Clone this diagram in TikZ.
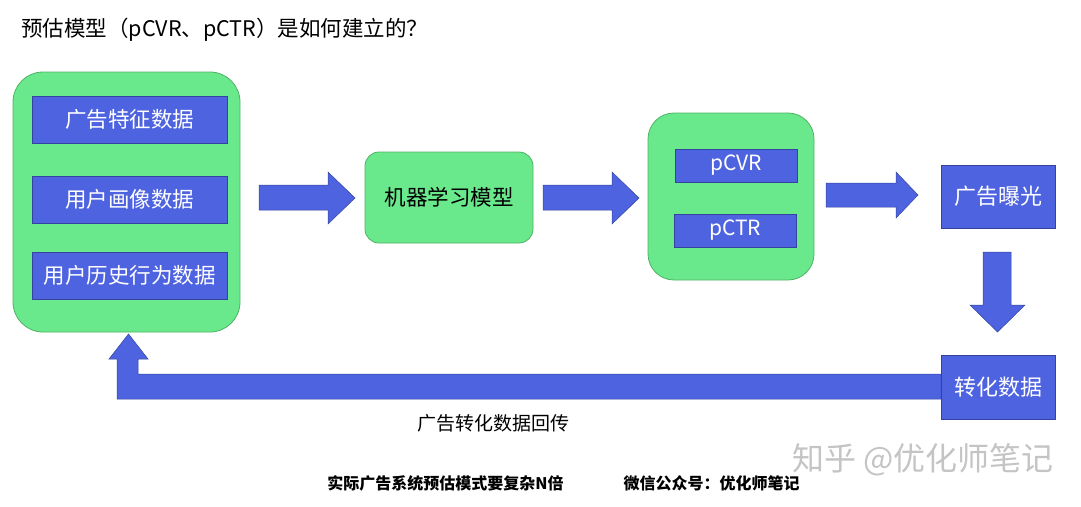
\documentclass[tikz,border=0pt]{standalone}
\usepackage{fontspec}
\setmainfont{Noto Sans CJK SC}
\usetikzlibrary{calc}
\definecolor{gfill}{HTML}{6AE98C}
\definecolor{gdraw}{HTML}{4DB265}
\definecolor{bfill}{HTML}{4E63E0}
\definecolor{bdraw}{HTML}{33449E}
\definecolor{wm}{HTML}{C4C4C4}
\tikzset{
  grp/.style={draw=gdraw, fill=gfill, line width=0.8pt, rounded corners=#1},
  bbox/.style={draw=bdraw, fill=bfill, line width=0.8pt, text=white, font=\fontsize{21.5}{24}\selectfont, inner sep=0pt},
  blockarrow/.style={fill=bfill, draw=bdraw, line width=0.5pt},
  lbl/.style={font=\fontsize{#1}{#1}\selectfont, inner sep=0pt}
}
\begin{document}
\begin{tikzpicture}[x=1pt,y=-1pt]
\useasboundingbox (0,0) rectangle (1081,506);
% title
\node[lbl=21.5, anchor=west] (title) at (21,30) {预估模型（pCVR、pCTR）是如何建立的？};
% left group
\draw[grp=30pt] (13,72) rectangle (240,332);
\node[bbox, minimum width=195pt, minimum height=47pt] (d1) at (129.5,119.5) {广告特征数据};
\node[bbox, minimum width=195pt, minimum height=47pt] (d2) at (129.5,199.5) {用户画像数据};
\node[bbox, minimum width=195pt, minimum height=47pt] (d3) at (129.5,275.5) {用户历史行为数据};
% arrow 1
\draw[blockarrow] (259,185) -- (328,185) -- (328,172) -- (355,198) -- (328,224) -- (328,210) -- (259,210) -- cycle;
% ML model
\node[draw=gdraw, fill=gfill, line width=0.8pt, rounded corners=14pt, minimum width=168pt, minimum height=91pt, lbl=21.5] (ml) at (449,197.5) {机器学习模型};
% arrow 2
\draw[blockarrow] (543,185) -- (612,185) -- (612,172) -- (639,198) -- (612,224) -- (612,210) -- (543,210) -- cycle;
% right group
\draw[grp=26pt] (648,113) rectangle (814,280);
\node[bbox, minimum width=122pt, minimum height=33pt, font=\fontsize{21}{22}\selectfont] (cvr) at (736,165.5) {pCVR};
\node[bbox, minimum width=122pt, minimum height=33pt, font=\fontsize{21}{22}\selectfont] (ctr) at (735,230.5) {pCTR};
% arrow 3
\draw[blockarrow] (826,183) -- (896,183) -- (896,172) -- (918,195) -- (896,218) -- (896,207) -- (826,207) -- cycle;
% exposure
\node[bbox, minimum width=114pt, minimum height=63pt, font=\fontsize{22}{24}\selectfont] (exp) at (998,196.5) {广告曝光};
% down arrow
\draw[blockarrow] (983,252) -- (1011,252) -- (1011,305) -- (1025,305) -- (997.5,332) -- (970,305) -- (983,305) -- cycle;
% return arrow
\draw[blockarrow] (941,374) -- (138,374) -- (138,359) -- (148,359) -- (128.5,334) -- (109,359) -- (117,359) -- (117,399) -- (941,399) -- cycle;
% conversion data
\node[bbox, minimum width=114pt, minimum height=64pt, font=\fontsize{22}{24}\selectfont] (conv) at (998,387) {转化数据};
% label
\node[lbl=19] (back) at (493,423) {广告转化数据回传};
% bottom texts
\node[inner sep=0pt, font=\fontsize{16}{16}\bfseries] (note) at (445.5,483) {实际广告系统预估模式要复杂N倍};
\node[inner sep=0pt, font=\fontsize{16}{16}\bfseries] (wx) at (711.5,483) {微信公众号：优化师笔记};
% watermark
\node[lbl=32, text=wm] (mark) at (923,460) {知乎 @优化师笔记};
\end{tikzpicture}
\end{document}
